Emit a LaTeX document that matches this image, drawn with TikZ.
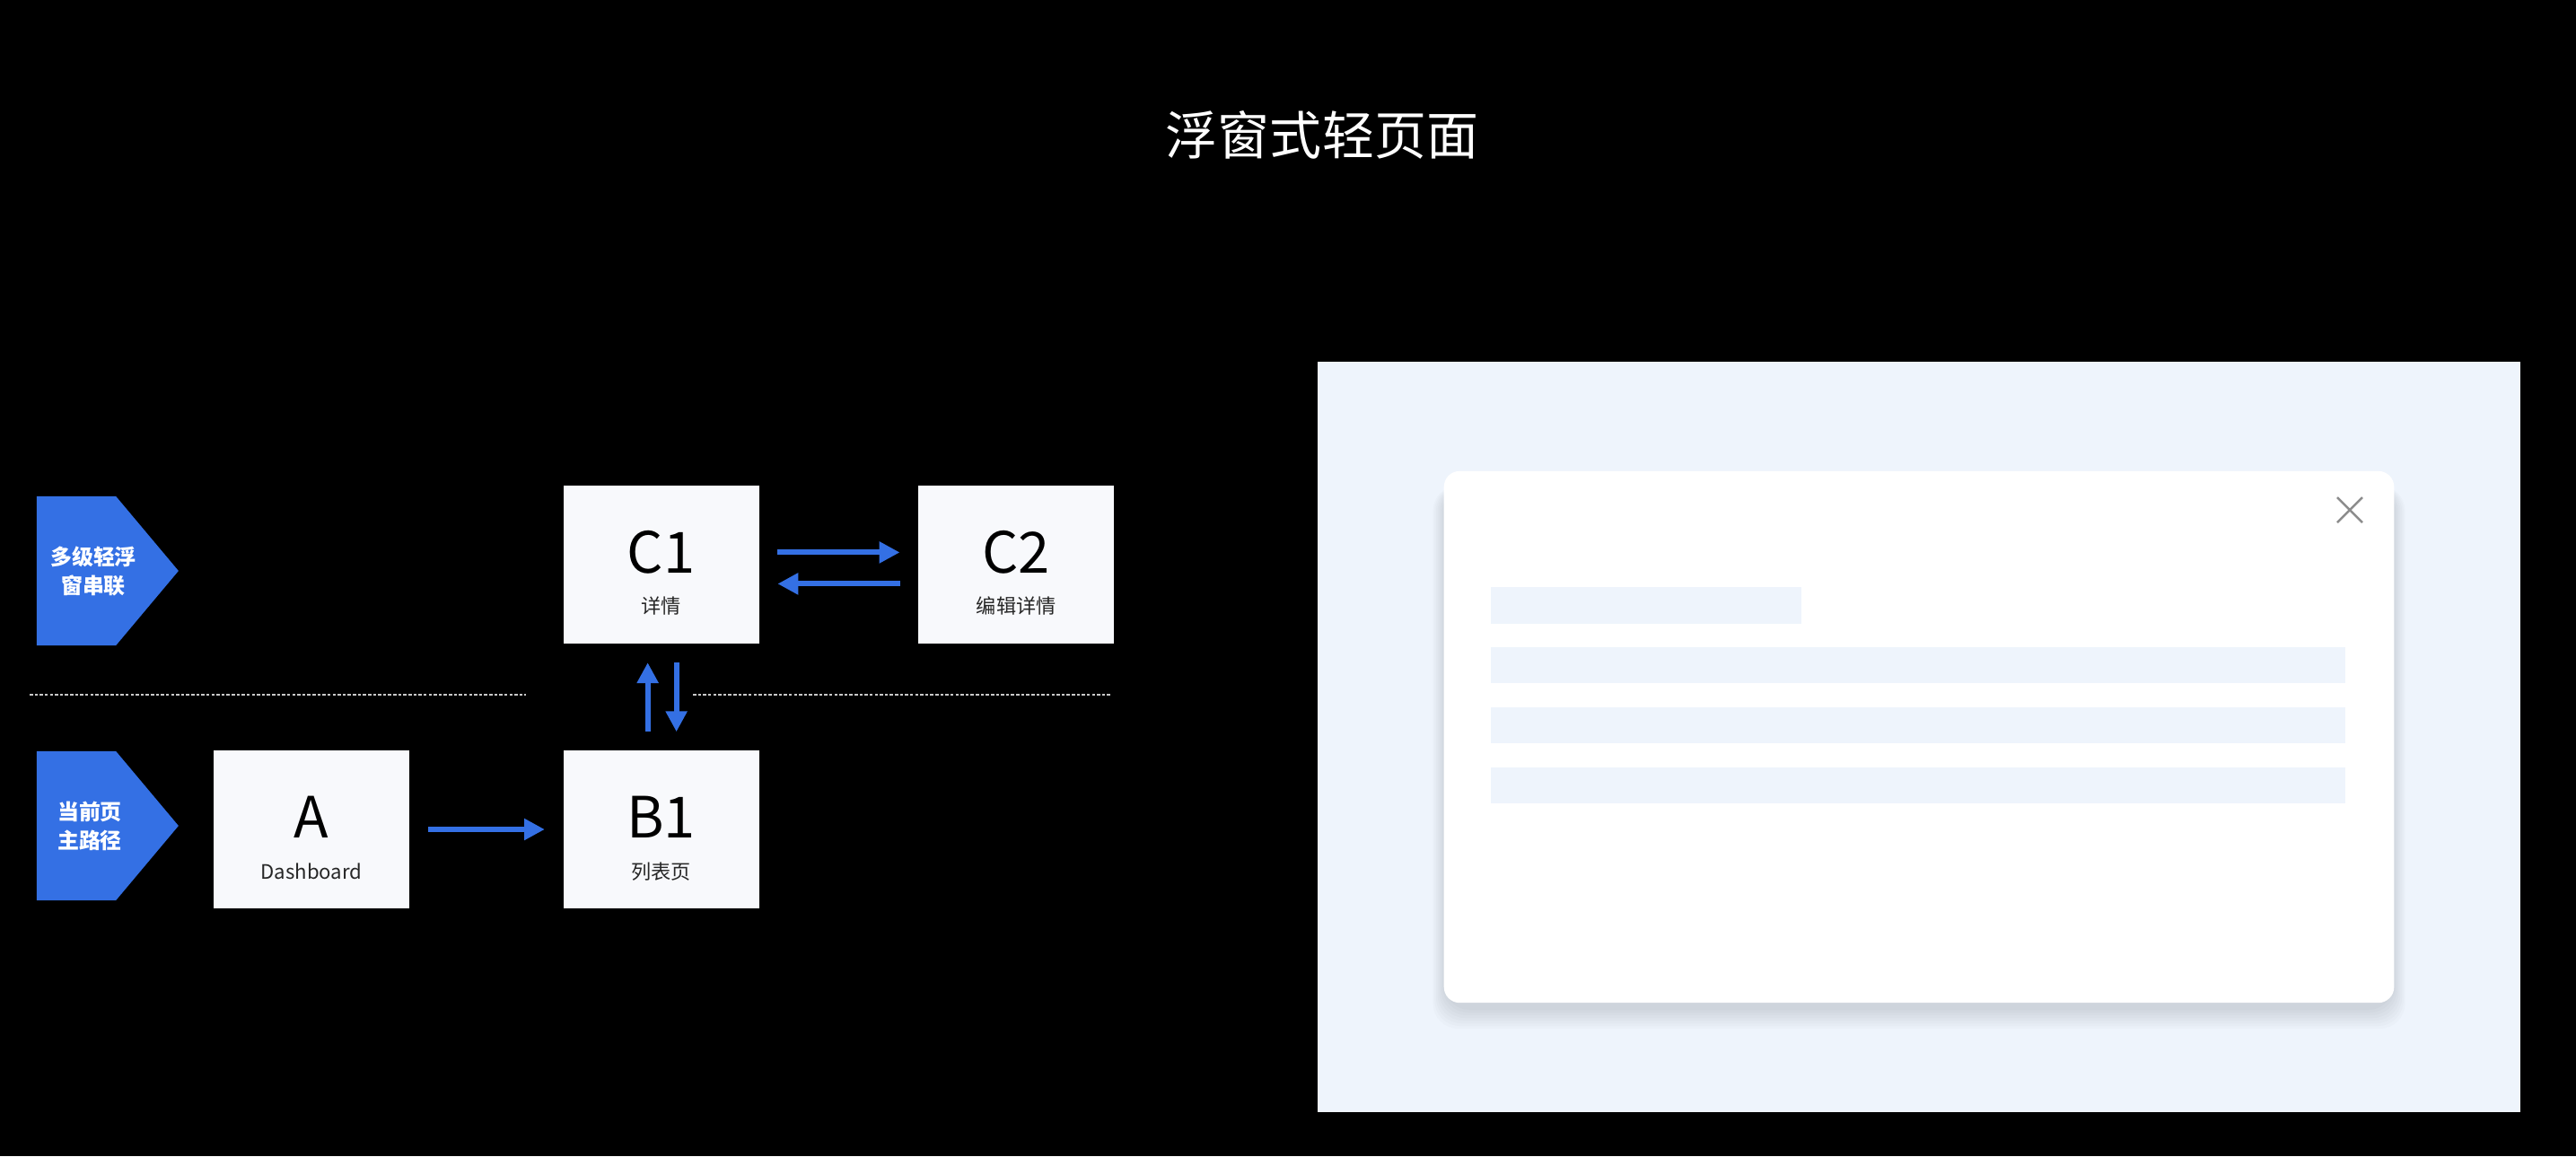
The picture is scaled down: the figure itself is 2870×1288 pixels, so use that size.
\documentclass[tikz,border=0pt]{standalone}
\usepackage{fontspec}
\setmainfont{Noto Sans CJK SC}
\definecolor{flowblue}{RGB}{52,112,228}
\definecolor{pagewhite}{RGB}{248,249,252}
\definecolor{panelblue}{RGB}{238,244,252}
\definecolor{dotgray}{RGB}{200,200,200}
\usetikzlibrary{shapes.symbols,arrows.meta,positioning,calc}

\begin{document}
\begin{tikzpicture}[
      x=0.01cm, y=-0.01cm,
      page/.style={fill=pagewhite, minimum width=2.18cm, minimum height=1.76cm, inner sep=0pt},
      pagename/.style={font=\fontsize{18}{20}\selectfont, text=black},
      pagesub/.style={font=\fontsize{6.3}{7}\selectfont, text=black!85},
      tag/.style={signal, signal to=east, signal pointer angle=100, fill=flowblue, minimum width=1.58cm, minimum height=1.66cm, inner sep=0pt},
      tagtext/.style={text=white, font=\fontsize{6.8}{9.1}\selectfont\bfseries, align=center},
      arrow/.style={-{Triangle[length=6.5pt,width=6.5pt]}, flowblue, line width=1.7pt, shorten <=0.2cm, shorten >=0.2cm},
      sep/.style={dotgray, line width=0.8pt, dash pattern=on 1pt off 0.6pt},
      bar/.style={fill=panelblue}
    ]
      \fill[black] (0,0) rectangle (2870,1288);
      \useasboundingbox (0,0) rectangle (2870,1288);

      % Title
      \node[font=\fontsize{16.5}{18}\selectfont, text=white] (title) at (1473,150) {浮窗式轻页面};

      % Row tags
      \node[tag] (lvl) at (85,636) {};
      \node[tagtext] (lvl-text) at (104,636) {多级轻浮\\窗串联};
      \node[tag] (main) at (85,920) {};
      \node[tagtext] (main-text) at (100,920) {当前页\\主路径};

      % Pages
      \node[page] (a) at (347,924) {};
      \node[page, right=1.70cm of a] (b1) {};
      \node[page, above=1.17cm of b1] (c1) {};
      \node[page, right=1.76cm of c1] (c2) {};

      \node[pagename] (a-name) at ($(a.center)+(0,-14)$) {A};
      \node[pagesub] (a-sub) at ($(a.center)+(0,47)$) {Dashboard};
      \node[pagename] (b1-name) at ($(b1.center)+(0,-14)$) {B1};
      \node[pagesub] (b1-sub) at ($(b1.center)+(0,47)$) {列表页};
      \node[pagename] (c1-name) at ($(c1.center)+(0,-14)$) {C1};
      \node[pagesub] (c1-sub) at ($(c1.center)+(0,46)$) {详情};
      \node[pagename] (c2-name) at ($(c2.center)+(0,-14)$) {C2};
      \node[pagesub] (c2-sub) at ($(c2.center)+(0,46)$) {编辑详情};

      % Flow
      \draw[arrow] (a) -- (b1);
      \draw[arrow] ($(c1.east)+(0,-14)$) -- ($(c2.west)+(0,-14)$);
      \draw[arrow] ($(c2.west)+(0,21)$) -- ($(c1.east)+(0,21)$);
      \draw[arrow] ($(b1.north)+(-15,0)$) -- ($(c1.south)+(-15,0)$);
      \draw[arrow] ($(c1.south)+(17,0)$) -- ($(b1.north)+(17,0)$);

      % Separator
      \draw[sep] (33,774) -- (586,774);
      \draw[sep] (772,774) -- (1237,774);

      % Floating window mock-up
      \node[fill=panelblue, minimum width=13.40cm, minimum height=8.36cm, inner sep=0pt] (panel) at (2138,821) {};
      \foreach \k in {0,3,...,21}
        \fill[black, opacity=0.016, rounded corners=8pt] ($(panel.center)+(-529-0.6*\k,-280)$) rectangle ($(panel.center)+(529+0.6*\k,304+\k)$);
      \node[fill=white, rounded corners=5pt, minimum width=10.58cm, minimum height=5.92cm, inner sep=0pt] (card) at (panel.center) {};
      \fill[bar] ($(card.north west)+(53,130)$) rectangle +(346,41);
      \foreach \i in {1,2,3}
        \fill[bar] ($(card.north west)+(53,130+67*\i)$) rectangle +(952,40);
      \coordinate (close) at ($(card.north east)+(-50,44)$);
      \draw[black!45, line width=0.7pt] ($(close)+(-14,-14)$) -- ($(close)+(14,14)$);
      \draw[black!45, line width=0.7pt] ($(close)+(-14,14)$) -- ($(close)+(14,-14)$);
    \end{tikzpicture}
\end{document}
